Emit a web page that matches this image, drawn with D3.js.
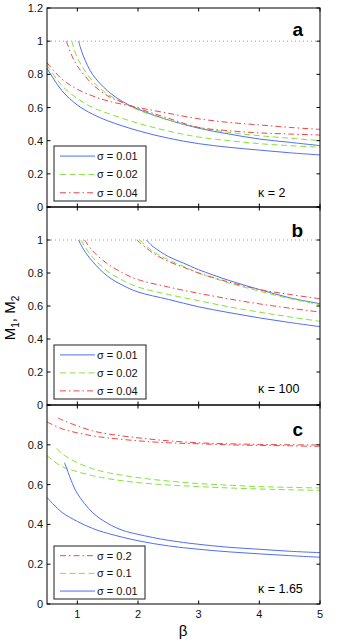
<!DOCTYPE html>
<html>
<head>
<meta charset="utf-8">
<script src="https://cdn.jsdelivr.net/npm/d3@7"></script>
<style>
  body { margin: 0; background: #fff; }
  svg { display: block; font-family: "Liberation Sans", Arial, sans-serif; }
</style>
</head>
<body>
<svg id="chart" width="342" height="642"></svg>
<script>
// x ticks and y ticks
var xTicks = [1, 2, 3, 4, 5];
var yTicksAB = [0, 0.2, 0.4, 0.6, 0.8, 1, 1.2];
var yTicksC = [0, 0.2, 0.4, 0.6, 0.8, 1];

// panel a, kappa = 2
var aBlue1B = [0.5, 0.75, 1, 1.25, 1.5, 2, 2.5, 3, 3.5, 4, 4.5, 5];
var aBlue1V = [0.836, 0.70, 0.615, 0.56, 0.52, 0.46, 0.415, 0.382, 0.36, 0.343, 0.327, 0.314];
var aBlue2B = [1.02, 1.1, 1.25, 1.5, 1.75, 2, 2.5, 3, 3.5, 4, 4.5, 5];
var aBlue2V = [1.0, 0.91, 0.80, 0.70, 0.635, 0.59, 0.525, 0.475, 0.44, 0.41, 0.39, 0.37];
var aGreen1B = [0.5, 0.75, 1, 1.25, 1.5, 2, 2.5, 3, 3.5, 4, 4.5, 5];
var aGreen1V = [0.856, 0.73, 0.655, 0.60, 0.565, 0.505, 0.458, 0.422, 0.40, 0.382, 0.37, 0.36];
var aGreen2B = [0.91, 1, 1.25, 1.5, 1.75, 2, 2.5, 3, 3.5, 4, 4.5, 5];
var aGreen2V = [1.0, 0.90, 0.76, 0.68, 0.63, 0.585, 0.525, 0.48, 0.45, 0.43, 0.415, 0.40];
var aRed1B = [0.5, 0.75, 1, 1.25, 1.5, 2, 2.5, 3, 3.5, 4, 4.5, 5];
var aRed1V = [0.87, 0.77, 0.71, 0.67, 0.64, 0.60, 0.565, 0.532, 0.51, 0.495, 0.48, 0.468];
var aRed2B = [0.82, 0.9, 1, 1.25, 1.5, 1.75, 2, 2.5, 3, 3.5, 4, 4.5, 5];
var aRed2V = [1.0, 0.92, 0.85, 0.74, 0.67, 0.63, 0.595, 0.535, 0.48, 0.46, 0.447, 0.44, 0.434];

// panel b, kappa = 100
var bBlue1B = [1.02, 1.1, 1.25, 1.5, 1.75, 2, 2.5, 3, 3.5, 4, 4.5, 5];
var bBlue1V = [1.0, 0.945, 0.87, 0.78, 0.725, 0.685, 0.64, 0.595, 0.56, 0.528, 0.50, 0.475];
var bBlue2B = [2.14, 2.25, 2.5, 2.75, 3, 3.5, 4, 4.5, 5];
var bBlue2V = [1.0, 0.96, 0.90, 0.86, 0.82, 0.755, 0.70, 0.65, 0.614];
var bGreen1B = [1.06, 1.15, 1.25, 1.5, 1.75, 2, 2.5, 3, 3.5, 4, 4.5, 5];
var bGreen1V = [1.0, 0.945, 0.895, 0.81, 0.755, 0.715, 0.67, 0.632, 0.595, 0.563, 0.534, 0.507];
var bGreen2B = [2.03, 2.25, 2.5, 2.75, 3, 3.5, 4, 4.5, 5];
var bGreen2V = [1.0, 0.93, 0.88, 0.84, 0.80, 0.74, 0.69, 0.645, 0.608];
var bRed1B = [1.12, 1.25, 1.5, 1.75, 2, 2.5, 3, 3.5, 4, 4.5, 5];
var bRed1V = [1.0, 0.935, 0.855, 0.80, 0.76, 0.715, 0.677, 0.643, 0.613, 0.587, 0.563];
var bRed2B = [1.98, 2.25, 2.5, 2.75, 3, 3.5, 4, 4.5, 5];
var bRed2V = [1.0, 0.92, 0.87, 0.835, 0.80, 0.745, 0.70, 0.67, 0.644];

// panel c, kappa = 1.65
var cRed1B = [0.5, 0.75, 1, 1.25, 1.5, 2, 2.5, 3, 3.5, 4, 4.5, 5];
var cRed1V = [0.915, 0.88, 0.86, 0.845, 0.835, 0.82, 0.81, 0.805, 0.80, 0.797, 0.795, 0.792];
var cRed2B = [0.68, 0.75, 1, 1.25, 1.5, 2, 2.5, 3, 3.5, 4, 4.5, 5];
var cRed2V = [0.935, 0.925, 0.895, 0.87, 0.855, 0.835, 0.82, 0.81, 0.805, 0.802, 0.80, 0.799];
var cGreen1B = [0.5, 0.75, 1, 1.25, 1.5, 2, 2.5, 3, 3.5, 4, 4.5, 5];
var cGreen1V = [0.746, 0.69, 0.665, 0.645, 0.63, 0.61, 0.598, 0.59, 0.583, 0.578, 0.574, 0.571];
var cGreen2B = [0.66, 0.75, 1, 1.25, 1.5, 2, 2.5, 3, 3.5, 4, 4.5, 5];
var cGreen2V = [0.783, 0.755, 0.71, 0.68, 0.66, 0.635, 0.618, 0.605, 0.597, 0.59, 0.586, 0.583];
var cBlue1B = [0.5, 0.75, 1, 1.25, 1.5, 2, 2.5, 3, 3.5, 4, 4.5, 5];
var cBlue1V = [0.535, 0.46, 0.415, 0.38, 0.355, 0.318, 0.292, 0.275, 0.262, 0.252, 0.243, 0.235];
var cBlue2B = [0.79, 0.85, 0.9, 1, 1.25, 1.5, 1.75, 2, 2.5, 3, 3.5, 4, 4.5, 5];
var cBlue2V = [0.71, 0.66, 0.62, 0.555, 0.46, 0.405, 0.37, 0.35, 0.32, 0.30, 0.285, 0.275, 0.265, 0.258];

var BLUE = '#4f6ef5', GREEN = '#86e23a', RED = '#f04545';
var styles = {
  blue: { color: BLUE, dash: null },
  green: { color: GREEN, dash: '6,3.5' },
  red: { color: RED, dash: '6,3,1.5,3' }
};

var svg = d3.select('#chart');
var left = 47, right = 320;
var x = d3.scaleLinear().domain([0.5, 5]).range([left, right]);

var panels = [
  { top: 8, bottom: 207, ymax: 1.2, ticks: yTicksAB, labels: [0, 0.2, 0.4, 0.6, 0.8, 1, 1.2],
    letter: 'a', letterY: 36, kappa: 'κ = 2', kappaY: 197, dotted: true,
    curves: [
      ['blue', aBlue1B, aBlue1V], ['blue', aBlue2B, aBlue2V],
      ['green', aGreen1B, aGreen1V], ['green', aGreen2B, aGreen2V],
      ['red', aRed1B, aRed1V], ['red', aRed2B, aRed2V]],
    legend: [['blue', 'σ = 0.01'], ['green', 'σ = 0.02'], ['red', 'σ = 0.04']],
    legendBox: [54, 146, 146, 201] },
  { top: 207, bottom: 405, ymax: 1.2, ticks: yTicksAB, labels: [0, 0.2, 0.4, 0.6, 0.8, 1],
    letter: 'b', letterY: 237, kappa: 'κ = 100', kappaY: 393, dotted: true,
    curves: [
      ['blue', bBlue1B, bBlue1V], ['blue', bBlue2B, bBlue2V],
      ['green', bGreen1B, bGreen1V], ['green', bGreen2B, bGreen2V],
      ['red', bRed1B, bRed1V], ['red', bRed2B, bRed2V]],
    legend: [['blue', 'σ = 0.01'], ['green', 'σ = 0.02'], ['red', 'σ = 0.04']],
    legendBox: [54, 345, 146, 399] },
  { top: 405, bottom: 604, ymax: 1, ticks: yTicksC, labels: [0, 0.2, 0.4, 0.6, 0.8],
    letter: 'c', letterY: 436, kappa: 'κ = 1.65', kappaY: 593, dotted: false,
    curves: [
      ['red', cRed1B, cRed1V], ['red', cRed2B, cRed2V],
      ['green', cGreen1B, cGreen1V], ['green', cGreen2B, cGreen2V],
      ['blue', cBlue1B, cBlue1V], ['blue', cBlue2B, cBlue2V]],
    legend: [['red', 'σ = 0.2'], ['green', 'σ = 0.1'], ['blue', 'σ = 0.01']],
    legendBox: [54, 546, 145, 599] }
];

panels.forEach(function(p, pi) {
  var y = d3.scaleLinear().domain([0, p.ymax]).range([p.bottom, p.top]);
  var g = svg.append('g');

  // dotted reference line at 1
  if (p.dotted) {
    g.append('line')
      .attr('x1', left).attr('x2', right)
      .attr('y1', y(1)).attr('y2', y(1))
      .attr('stroke', '#9a9a9a').attr('stroke-width', 1)
      .attr('stroke-dasharray', '1,3');
  }

  var line = d3.line()
    .x(function(d) { return x(d[0]); })
    .y(function(d) { return y(d[1]); })
    .curve(d3.curveCatmullRom.alpha(0.5));

  p.curves.forEach(function(c) {
    var st = styles[c[0]];
    var pts = c[1].map(function(b, i) { return [b, c[2][i]]; });
    g.append('path').datum(pts)
      .attr('d', line)
      .attr('fill', 'none')
      .attr('stroke', st.color)
      .attr('stroke-width', 1)
      .attr('stroke-dasharray', st.dash);
  });

  // frame
  g.append('rect')
    .attr('x', left).attr('y', p.top)
    .attr('width', right - left).attr('height', p.bottom - p.top)
    .attr('fill', 'none').attr('stroke', '#000').attr('stroke-width', 1);

  // inward ticks, matlab style
  var tl = 3.5;
  xTicks.forEach(function(t) {
    g.append('line').attr('x1', x(t)).attr('x2', x(t))
      .attr('y1', p.bottom).attr('y2', p.bottom - tl).attr('stroke', '#000');
    g.append('line').attr('x1', x(t)).attr('x2', x(t))
      .attr('y1', p.top).attr('y2', p.top + tl).attr('stroke', '#000');
  });
  p.ticks.forEach(function(t) {
    g.append('line').attr('x1', left).attr('x2', left + tl)
      .attr('y1', y(t)).attr('y2', y(t)).attr('stroke', '#000');
    g.append('line').attr('x1', right).attr('x2', right - tl)
      .attr('y1', y(t)).attr('y2', y(t)).attr('stroke', '#000');
  });
  p.labels.forEach(function(t) {
    g.append('text').attr('x', 43).attr('y', y(t) + 4)
      .attr('text-anchor', 'end').attr('font-size', 11).attr('fill', '#111')
      .text(d3.format('~g')(t));
  });

  // panel letter and kappa
  g.append('text').attr('x', 303).attr('y', p.letterY)
    .attr('text-anchor', 'end').attr('font-size', 19).attr('font-weight', 'bold')
    .text(p.letter);
  g.append('text').attr('x', 258).attr('y', p.kappaY)
    .attr('font-size', 12.5).text(p.kappa);

  // legend
  var lb = p.legendBox;
  g.append('rect').attr('x', lb[0]).attr('y', lb[1])
    .attr('width', lb[2] - lb[0]).attr('height', lb[3] - lb[1])
    .attr('fill', '#fff').attr('stroke', '#444').attr('stroke-width', 1.2);
  var rowH = (lb[3] - lb[1]) / 3;
  p.legend.forEach(function(item, i) {
    var st = styles[item[0]];
    var ry = lb[1] + rowH * (i + 0.55);
    g.append('line').attr('x1', 60).attr('x2', 95)
      .attr('y1', ry).attr('y2', ry)
      .attr('stroke', st.color).attr('stroke-width', 1)
      .attr('stroke-dasharray', st.dash);
    g.append('text').attr('x', 97).attr('y', ry + 4)
      .attr('font-size', 11).attr('fill', '#111').text(item[1]);
  });

  // x tick labels on bottom panel only
  if (pi === panels.length - 1) {
    xTicks.forEach(function(t) {
      g.append('text').attr('x', x(t)).attr('y', 618)
        .attr('text-anchor', 'middle').attr('font-size', 11).attr('fill', '#111')
        .text(t);
    });
  }
});

// axis titles
svg.append('text').attr('x', 183).attr('y', 636)
  .attr('text-anchor', 'middle').attr('font-size', 15).text('β');

var yl = svg.append('text')
  .attr('transform', 'translate(15,318) rotate(-90)')
  .attr('text-anchor', 'middle').attr('font-size', 15);
yl.append('tspan').text('M');
yl.append('tspan').attr('font-size', 10).attr('dy', 4).text('1');
yl.append('tspan').attr('dy', -4).text(', M');
yl.append('tspan').attr('font-size', 10).attr('dy', 4).text('2');
</script>
</body>
</html>
